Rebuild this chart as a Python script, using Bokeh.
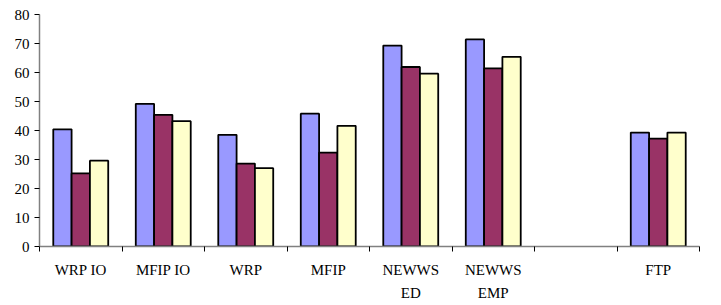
from bokeh.plotting import figure
from bokeh.models import Range1d, FixedTicker, ColumnDataSource
from bokeh.embed import file_html
from bokeh.resources import INLINE

categories = ["WRP IO", "MFIP IO", "WRP", "MFIP", "NEWWS\nED", "NEWWS\nEMP", "", "FTP"]
series1 = [40.4, 49.2, 38.5, 45.8, 69.3, 71.4, None, 39.3]
series2 = [25.2, 45.4, 28.6, 32.4, 61.9, 61.4, None, 37.2]
series3 = [29.6, 43.2, 27.0, 41.6, 59.6, 65.4, None, 39.3]
colors = ["#9999FF", "#993366", "#FFFFCC"]
y_ticks = [0, 10, 20, 30, 40, 50, 60, 70, 80]

p = figure(width=708, height=305, output_backend="svg", toolbar_location=None,
           x_range=Range1d(0, len(categories)), y_range=Range1d(0, 80),
           min_border_left=39, min_border_right=9, min_border_top=14, min_border_bottom=59)
p.outline_line_color = None
p.grid.grid_line_color = None

bw = 0.222
for i, (vals, c) in enumerate(zip([series1, series2, series3], colors)):
    xs, tops = [], []
    for j, v in enumerate(vals):
        if v is not None:
            xs.append(j + 0.5 + (i - 1) * bw)
            tops.append(v)
    src = ColumnDataSource(dict(x=xs, top=tops))
    p.vbar(x="x", top="top", bottom=0, width=bw, source=src, fill_color=c,
           line_color="black", line_width=1.8)

font = "Liberation Serif"
centers = [j + 0.5 for j in range(len(categories))]
p.xaxis.ticker = FixedTicker(ticks=centers, minor_ticks=list(range(len(categories) + 1)))
p.xaxis.major_label_overrides = {c: lab for c, lab in zip(centers, categories)}
p.xaxis.major_tick_out = 0
p.xaxis.major_tick_in = 0
p.xaxis.minor_tick_out = 5
p.xaxis.minor_tick_in = 0
p.xaxis.minor_tick_line_color = "black"
p.xaxis.axis_line_color = "#808080"
p.xaxis.axis_line_width = 1.5
p.xaxis.major_label_text_font = font
p.xaxis.major_label_text_font_size = "15px"
p.xaxis.major_label_text_color = "black"
p.xaxis.major_label_standoff = 10
p.xaxis.major_label_text_line_height = 1.45

p.yaxis.ticker = FixedTicker(ticks=y_ticks)
p.yaxis.minor_tick_line_color = None
p.yaxis.major_tick_out = 5
p.yaxis.major_tick_in = 0
p.yaxis.major_tick_line_color = "black"
p.yaxis.axis_line_color = "#808080"
p.yaxis.axis_line_width = 1.5
p.yaxis.major_label_text_font = font
p.yaxis.major_label_text_font_size = "15px"
p.yaxis.major_label_text_color = "black"
p.yaxis.major_label_standoff = 5

open("out.html", "w").write(file_html(p, INLINE))
